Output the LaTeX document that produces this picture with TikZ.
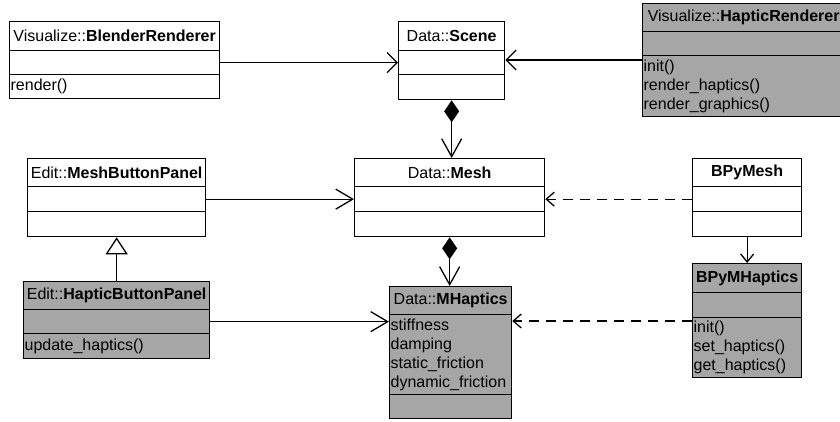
\documentclass[tikz,border=0pt]{standalone}
\usepackage{fontspec}
\setmainfont{Liberation Sans}
\usetikzlibrary{arrows.meta}
\definecolor{hapgray}{RGB}{166,166,166}
\tikzset{
	part/.style={rectangle, draw, line width=1.3pt, anchor=north west, inner xsep=1pt,
	inner ysep=0pt, font=\fontsize{16}{19}\selectfont},
	headpart/.style={part, align=center},
	listpart/.style={part, align=left},
	haptic/.style={fill=hapgray},
	assoc/.style={line width=1.3pt, -{Straight Barb[length=17pt,width=20pt]}},
	assocshort/.style={line width=1.3pt, -{Straight Barb[length=10pt,width=20pt]}},
	depend/.style={line width=1.3pt, dash pattern=on 10pt off 7pt,
	-{Straight Barb[length=8pt,width=14pt]}},
	compo/.style={line width=1.3pt, {Diamond[length=22pt,width=15pt]}-{Straight Barb[length=18pt,width=20pt]}},
	inherit/.style={line width=1.3pt, -{Triangle[open,length=17pt,width=22pt]}}
}
\begin{document}
\begin{tikzpicture}[x=1pt, y=-1pt]
			\useasboundingbox (0,0) rectangle (840,421);
			\clip (0,0) rectangle (840,421);
			
			%Blocks
			\node (blenderHead) at (9,21) [headpart, text width=208pt, minimum height=29pt] {Visualize::\textbf{BlenderRenderer}};
			\node (blenderAttr) at (9,50) [listpart, text width=208pt, minimum height=24pt] {};
			\node (blenderOps) at (9,74) [listpart, text width=208pt, minimum height=24pt] {render()};
			
			\node (sceneHead) at (398,21) [headpart, text width=104pt, minimum height=29pt] {Data::\textbf{Scene}};
			\node (sceneAttr) at (398,50) [listpart, text width=104pt, minimum height=24pt] {};
			\node (sceneOps) at (398,74) [listpart, text width=104pt, minimum height=25pt] {};
			
			\node (renderHead) at (642,3) [headpart, haptic, text width=200pt, minimum height=28pt] {Visualize::\textbf{HapticRenderer}};
			\node (renderAttr) at (642,31) [listpart, haptic, text width=200pt, minimum height=24pt] {};
			\node (renderOps) at (642,55) [listpart, haptic, text width=200pt, minimum height=61pt] {init()\\render\_haptics()\\render\_graphics()};
			
			\node (panelHead) at (27,158) [headpart, text width=176pt, minimum height=28pt] {Edit::\textbf{MeshButtonPanel}};
			\node (panelAttr) at (27,186) [listpart, text width=176pt, minimum height=25pt] {};
			\node (panelOps) at (27,211) [listpart, text width=176pt, minimum height=25pt] {};
			
			\node (meshHead) at (354,158) [headpart, text width=188pt, minimum height=28pt] {Data::\textbf{Mesh}};
			\node (meshAttr) at (354,186) [listpart, text width=188pt, minimum height=25pt] {};
			\node (meshOps) at (354,211) [listpart, text width=188pt, minimum height=25pt] {};
			
			\node (pyMeshHead) at (692,158) [headpart, text width=107pt, minimum height=28pt] {\textbf{BPyMesh}};
			\node (pyMeshAttr) at (692,186) [listpart, text width=107pt, minimum height=25pt] {};
			\node (pyMeshOps) at (692,211) [listpart, text width=107pt, minimum height=25pt] {};
			
			\node (hapPanelHead) at (23,281) [headpart, haptic, text width=184pt, minimum height=28pt] {Edit::\textbf{HapticButtonPanel}};
			\node (hapPanelAttr) at (23,309) [listpart, haptic, text width=184pt, minimum height=24pt] {};
			\node (hapPanelOps) at (23,333) [listpart, haptic, text width=184pt, minimum height=25pt] {update\_haptics()};
			
			\node (mHapHead) at (389,286) [headpart, haptic, text width=120pt, minimum height=28pt] {Data::\textbf{MHaptics}};
			\node (mHapAttr) at (389,314) [listpart, haptic, text width=120pt, minimum height=80pt] {stiffness\\damping\\static\_friction\\dynamic\_friction};
			\node (mHapOps) at (389,394) [listpart, haptic, text width=120pt, minimum height=24pt] {};
			
			\node (pyHapHead) at (692,263) [headpart, haptic, text width=107pt, minimum height=29pt] {\textbf{BPyMHaptics}};
			\node (pyHapAttr) at (692,292) [listpart, haptic, text width=107pt, minimum height=25pt] {};
			\node (pyHapOps) at (692,317) [listpart, haptic, text width=107pt, minimum height=60pt] {init()\\set\_haptics()\\get\_haptics()};
			
			%Links
			\draw [assocshort] (blenderAttr.east) -- (sceneAttr.west);
			\draw [assocshort] ([yshift=-5pt]renderOps.north west) -- ([yshift=-5pt]renderOps.north west -| sceneAttr.east);
			\draw [compo] (sceneOps.south) -- (sceneOps.south |- meshHead.north);
			\draw [assoc] (panelAttr.east) -- (meshAttr.west);
			\draw [depend] (pyMeshAttr.west) -- (meshAttr.east);
			\draw [line width=1.3pt, -{Straight Barb[length=8pt,width=13pt]}] (pyMeshOps.south) -- (pyHapHead.north);
			\draw [compo] (meshOps.south) -- (meshOps.south |- mHapHead.north);
			\draw [inherit] (hapPanelHead.north) -- (hapPanelHead.north |- panelOps.south);
			\draw [assoc] (hapPanelAttr.east) -- (hapPanelAttr.east -| mHapAttr.west);
			\draw [depend] ([yshift=-4pt]pyHapOps.north west) -- ([yshift=-4pt]pyHapOps.north west -| mHapAttr.east);
			
\end{tikzpicture}
\end{document}
